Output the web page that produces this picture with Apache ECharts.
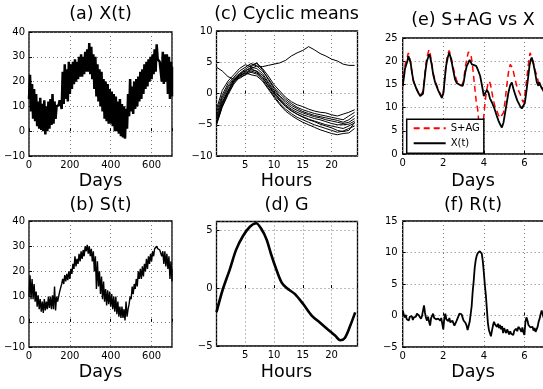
<!DOCTYPE html>
<html><head><meta charset="utf-8">
<script src="https://cdn.jsdelivr.net/npm/echarts@6/dist/echarts.min.js"></script>
<style>html,body{margin:0;padding:0;background:#fff}#c{width:543px;height:389px}</style>
</head><body><div id="c"></div>
<script>
// ---------- DATA ----------
// (a) X(t) and (b) S(t): upper / lower envelopes of the noisy trace, every 10 days
const envDays = [0,10,20,30,40,50,60,70,80,90,100,110,120,130,140,150,160,170,180,190,200,210,220,230,240,250,260,270,280,290,300,310,320,330,340,350,360,370,380,390,400,410,420,430,440,450,460,470,480,490,500,510,520,530,540,550,560,570,580,590,600,610,620,630,640,650,660,670,680,690,700];
const aUp = [22.7,19,17,15,12,13.5,11,12.5,10,12,13,15,12,10,10.5,12.5,24,27,25,28,27,28,29,28,30,31,30,32,33,35.5,34,31,30,27,25,24,21,20,19,17,16,15,14,12,13,11,10,9,15,21,18,20,21,22,24,25,27,28,29,30,31,33,35,29,28,32,31,31,30,28,26];
const aLo = [13,8,5,4,2,1,0.5,0,-1.3,0,1,2.5,3,5,10.5,12.5,9,11,13,12,15,17,19,20,21,22,22,23,24,24,23,21,17,14,12,10,8,5,4,3,3,2,0,0,-1,-2,-2.5,-3,1,6,8,7,9,10,12,13,15,17,18,20,21,23,24,29,28,20,19,20,15,13,14];
const bUp = [18.5,17,15,12,10.5,9,8,9,8,10,10,10.5,14,10,8,12,17,18.5,19,20,21,23,26,25,27,28,28.5,30,30.5,30,29,28,26,24,20,18,16,13,12.5,12,11,10,10,8,6,6,5,8,5,10,14,15,17,20,21,22,23,25,26,27,28,29,30,29,28.5,28,28,27,26,24,21];
const bLo = [10,9,9,8,6,5,4,3.5,4.5,5,5.5,5,5,4.5,8,12,15,15,16,16.5,17,19,21,22,23,24,25,26,28,27,26,24,20,13,14,11,9,8,6.5,7,6,5,4,3,2,1.5,1.5,0.5,2,7,9,11,13,14,17,17,18,20,21,23,24,26,28.5,29,28.5,26,23,22,21,17,16];

// (c) Cyclic means: one curve per cycle, hourly
const cHours = [0,1,2,3,4,5,6,7,8,9,10,11,12,13,14,15,16,17,18,19,20,21,22,23,24];
const cOdd = [4.2,3.6,2.7,2.3,2.4,3.0,4.0,4.4,4.3,4.5,4.7,4.9,5.3,6.0,6.5,6.9,7.5,7.0,6.4,6.0,5.5,5.2,4.7,4.5,4.5];
const c1 = [-2.5,0.5,2.0,3.0,4.0,4.6,4.3,4.8,4.0,2.8,1.4,0.4,-0.6,-1.3,-1.8,-2.1,-2.5,-2.8,-3.0,-3.1,-3.4,-3.6,-3.3,-3.0,-2.6];
const c2 = [-3.0,-0.2,1.6,2.6,3.6,4.2,4.8,4.4,3.6,2.4,1.0,0.0,-0.9,-1.6,-2.2,-2.6,-2.9,-3.2,-3.4,-3.6,-3.8,-4.0,-4.2,-3.6,-3.0];
const c3 = [-3.6,-0.6,1.2,2.4,3.2,3.9,4.5,4.9,3.8,2.2,0.8,-0.4,-1.2,-1.9,-2.4,-2.9,-3.2,-3.5,-3.7,-3.9,-4.1,-4.3,-4.6,-4.2,-3.5];
const c4 = [-4.0,-1.0,0.9,2.2,3.0,3.6,4.2,4.0,3.2,1.8,0.5,-0.6,-1.5,-2.2,-2.7,-3.1,-3.4,-3.7,-3.9,-4.2,-4.4,-4.6,-4.8,-4.6,-4.0];
const c5 = [-4.4,-1.4,0.5,2.0,2.8,3.4,3.8,3.6,2.9,1.6,0.2,-0.9,-1.8,-2.5,-3.0,-3.4,-3.7,-4.0,-4.2,-4.5,-4.8,-5.0,-5.0,-4.9,-4.4];
const c6 = [-4.7,-1.8,0.2,1.8,2.9,3.2,3.6,3.3,2.5,1.2,-0.1,-1.2,-2.1,-2.8,-3.3,-3.7,-4.1,-4.4,-4.7,-5.0,-5.2,-5.4,-5.6,-5.2,-4.7];
const c7 = [-5.0,-2.2,-0.2,1.5,2.6,3.0,3.4,3.1,2.2,0.9,-0.4,-1.6,-2.5,-3.2,-3.8,-4.2,-4.6,-5.0,-5.3,-5.6,-5.9,-6.2,-6.0,-5.6,-5.2];
const c8 = [-4.9,-2.0,0.0,1.7,2.7,3.3,3.0,2.8,2.0,0.7,-0.6,-1.8,-2.8,-3.5,-4.1,-4.6,-5.0,-5.4,-5.8,-6.1,-6.4,-6.6,-6.4,-6.3,-5.6];
const c9 = [-4.6,-1.6,0.4,2.1,3.1,3.7,4.0,3.5,2.6,1.3,0.1,-1.0,-2.0,-2.7,-3.3,-3.8,-4.2,-4.5,-4.9,-5.2,-5.5,-5.9,-6.1,-5.9,-4.6];

// (d) G
const dHours = [0,1.1,2.3,3.4,4.6,5.8,6.9,7.8,8.7,9.5,10.4,11.3,12.2,13.6,15.1,16.5,18,19.4,20.6,21.5,22.3,23.2,24.1];
const dVals  = [-2.07,-0.1,1.6,3.3,4.5,5.3,5.6,5.1,4.2,2.9,1.6,0.5,0,-0.5,-1.4,-2.35,-3.0,-3.6,-4.1,-4.5,-4.3,-3.3,-2.1];

// (e) S+AG vs X
const eXDays = [0,0.06,0.11,0.17,0.23,0.28,0.33,0.39,0.46,0.53,0.61,0.69,0.77,0.86,0.94,1.0,1.05,1.12,1.19,1.25,1.3,1.36,1.43,1.5,1.6,1.68,1.76,1.85,1.93,2.01,2.07,2.14,2.22,2.29,2.35,2.42,2.5,2.58,2.66,2.75,2.85,2.96,3.02,3.08,3.16,3.24,3.3,3.41,3.5,3.62,3.72,3.82,3.92,4.0,4.07,4.15,4.23,4.3,4.4,4.52,4.64,4.72,4.8,4.89,4.97,5.05,5.13,5.21,5.3,5.38,5.46,5.54,5.65,5.79,5.87,5.95,6.02,6.09,6.17,6.25,6.31,6.36,6.44,6.53,6.61,6.69,6.73,6.77,6.85,6.94,7.0];
const eXVals = [14.7,16.5,18.3,19.2,20.0,21.1,20.5,19.7,17.5,15.7,14.8,13.9,13.2,12.5,12.1,13.0,15.0,17.8,20.0,20.8,21.5,20.8,19.3,17.2,15.4,14.5,13.6,12.8,12.1,13.2,16.0,19.0,20.8,21.8,21.0,19.7,17.8,16.1,15.3,15.0,14.8,14.7,15.8,17.5,19.0,19.7,20.3,19.3,19.4,19.0,18.0,16.8,14.5,12.5,12.9,13.8,13.2,12.0,11.1,9.8,8.2,7.2,6.4,5.7,6.8,8.9,11.0,13.2,14.8,15.4,14.0,12.9,11.5,10.3,9.8,9.6,11.0,13.2,16.0,19.0,20.3,20.8,19.5,17.5,15.5,14.7,15.5,15.0,14.2,13.6,13.2];
const eSDays = [0,0.06,0.11,0.17,0.23,0.28,0.33,0.39,0.46,0.53,0.61,0.69,0.77,0.86,0.94,1.0,1.05,1.12,1.19,1.25,1.3,1.36,1.43,1.5,1.6,1.68,1.76,1.85,1.93,2.01,2.07,2.14,2.22,2.29,2.35,2.42,2.5,2.58,2.66,2.75,2.85,2.96,3.02,3.08,3.16,3.24,3.3,3.36,3.43,3.49,3.56,3.62,3.7,3.76,3.82,3.9,3.96,4.01,4.07,4.14,4.2,4.28,4.35,4.45,4.55,4.64,4.72,4.8,4.89,4.97,5.05,5.13,5.21,5.3,5.35,5.42,5.54,5.65,5.79,5.87,5.95,6.02,6.11,6.2,6.28,6.33,6.44,6.53,6.61,6.69,6.77,6.85,6.94,7.0];
const eSVals = [14.5,17.0,19.0,20.3,21.0,21.8,21.0,19.5,17.5,15.8,14.8,14.0,13.2,12.6,12.3,13.5,15.5,18.5,20.8,21.8,22.5,21.5,19.5,17.5,15.8,14.8,13.8,13.0,12.3,13.6,16.5,19.5,21.5,22.3,21.5,20.2,18.5,17.0,15.8,15.2,15.0,15.0,16.5,18.5,20.5,22.0,22.3,21.5,19.5,17.0,14.0,11.5,9.5,6.5,3.0,2.5,6.0,8.8,11.5,13.8,15.0,15.7,14.5,12.0,10.2,9.3,8.4,7.8,7.5,8.9,11.5,14.7,17.5,19.3,19.7,18.5,16.1,14.2,12.9,11.8,11.1,12.8,16.0,19.5,21.8,22.0,19.7,18.0,17.0,15.5,14.7,14.3,14.0,13.8];

// (f) R(t)
const fDays = [0,0.05,0.1,0.15,0.2,0.25,0.3,0.35,0.4,0.45,0.5,0.55,0.6,0.65,0.7,0.75,0.8,0.85,0.9,0.95,1.0,1.05,1.1,1.15,1.2,1.25,1.3,1.35,1.4,1.45,1.5,1.55,1.6,1.65,1.7,1.75,1.8,1.85,1.9,1.95,2.0,2.05,2.1,2.15,2.2,2.25,2.3,2.35,2.4,2.45,2.5,2.55,2.6,2.65,2.7,2.75,2.8,2.85,2.9,2.95,3.0,3.05,3.1,3.15,3.2,3.25,3.3,3.35,3.4,3.45,3.5,3.55,3.6,3.65,3.7,3.75,3.8,3.85,3.9,3.95,4.0,4.05,4.1,4.15,4.2,4.25,4.3,4.35,4.4,4.45,4.5,4.55,4.6,4.65,4.7,4.75,4.8,4.85,4.9,4.95,5.0,5.05,5.1,5.15,5.2,5.25,5.3,5.35,5.4,5.45,5.5,5.55,5.6,5.65,5.7,5.75,5.8,5.85,5.9,5.95,6.0,6.05,6.1,6.15,6.2,6.25,6.3,6.35,6.4,6.45,6.5,6.55,6.6,6.65,6.7,6.75,6.8,6.85,6.9,6.95,7.0];
const fVals = [0.8,0.2,-0.3,0.1,-0.6,-0.4,-0.8,-0.2,-0.5,-0.1,-0.7,-0.3,-0.6,-0.2,0.3,0.4,0.0,-0.2,-0.5,-0.1,-0.2,1.6,0.4,-0.4,-0.8,-0.2,-1.0,-1.6,-0.4,-0.7,0.3,-0.4,-0.1,-0.6,-0.3,-0.5,-0.2,-0.8,-0.4,-0.7,-2.2,-0.5,0.3,-0.6,-0.3,-0.9,-0.4,-1.1,-1.4,-0.8,-1.2,-1.6,-1.3,-0.9,-0.5,-0.2,0.3,0.6,0.2,-0.3,-0.8,-0.5,-1.2,-1.6,-2.3,-2.0,-1.0,0.2,1.5,3.8,5.5,7.6,8.8,9.5,9.9,9.7,10.2,10.3,9.8,8.6,6.8,4.8,3.2,1.0,-1.2,-2.3,-2.8,-3.3,-2.4,-1.6,-1.0,-1.4,-1.2,-1.8,-1.3,-2.0,-1.5,-2.2,-1.7,-2.8,-2.0,-2.4,-2.8,-2.2,-2.6,-3.0,-2.5,-2.9,-2.7,-3.1,-2.4,-2.6,-2.1,-2.5,-1.8,-1.5,-2.2,-2.6,-1.9,-2.7,-3.1,-1.0,-0.3,-0.8,-1.5,-1.2,-1.9,-2.2,-1.8,-2.4,-2.0,-2.6,-2.3,-1.8,-1.0,-0.5,0.2,0.8,0.5,-0.4,-0.2];

// ---------- CHART ----------
const FONT = 'DejaVu Sans';
const chart = echarts.init(document.getElementById('c'), null, {renderer: 'canvas'});

function pairs(xs, ys) { return xs.map((x, i) => [x, ys[i]]); }
function zig(days, up, lo) {
  const out = [];
  for (let i = 0; i < days.length; i++) {
    out.push([days[i], lo[i]]);
    out.push([i < days.length - 1 ? days[i] + 5 : days[i], up[i]]);
  }
  return out;
}
const fmt = (interval, hideZero) => v => {
  const k = v / interval;
  if (Math.abs(k - Math.round(k)) > 1e-6) return '';
  if (hideZero && v === 0) return '';
  return String(v).replace('-', '\u2212');
};
const gridBox = [
  {left: 29, top: 32, width: 143, height: 124},
  {left: 29, top: 221, width: 143, height: 126},
  {left: 216.5, top: 31, width: 141, height: 125},
  {left: 216.5, top: 221.5, width: 141, height: 124.5},
  {left: 402.7, top: 38, width: 142, height: 116},
  {left: 402.7, top: 221, width: 142, height: 126}
];
const grid = gridBox.map(g => Object.assign({show: true, borderColor: '#000', borderWidth: 1.3,
  backgroundColor: 'transparent', containLabel: false, outerBoundsMode: 'none'}, g));

const split = {show: true, lineStyle: {color: '#777', type: [1, 3], width: 1}};
function xAx(gi, min, max, interval, hideZero) {
  return {gridIndex: gi, type: 'value', min, max, interval,
    axisLine: {show: false},
    axisTick: {show: true, inside: true, length: 3, lineStyle: {color: '#000'}},
    axisLabel: {fontFamily: FONT, fontSize: 10, color: '#000', margin: 4, formatter: fmt(interval, hideZero)},
    splitLine: split};
}
function yAx(gi, min, max, interval, margin) {
  return {gridIndex: gi, type: 'value', min, max, interval,
    axisLine: {show: false},
    axisTick: {show: true, inside: true, length: 3, lineStyle: {color: '#000'}},
    axisLabel: {fontFamily: FONT, fontSize: 10, color: '#000', margin: margin, formatter: fmt(interval, false)},
    splitLine: split};
}
const xAxis = [
  xAx(0, 0, 700, 200, false), xAx(1, 0, 700, 200, false),
  xAx(2, 0, 24.5, 5, true), xAx(3, 0, 24.5, 5, true),
  xAx(4, 0, 7, 2, false), xAx(5, 0, 7, 2, false)
];
const yAxis = [
  yAx(0, -10, 40, 10, 4), yAx(1, -10, 40, 10, 4),
  yAx(2, -10, 10, 5, 4), yAx(3, -5, 5.75, 5, 4),
  yAx(4, 0, 25, 5, 5), yAx(5, -5, 15, 5, 5)
];

function line(idx, data, width, extra) {
  return Object.assign({type: 'line', xAxisIndex: idx, yAxisIndex: idx, data,
    symbol: 'none', silent: true, animation: false,
    itemStyle: {color: '#000'},
    lineStyle: {color: '#000', width: width}}, extra || {});
}
const series = [];
series.push(line(0, zig(envDays, aUp, aLo), 2.5));
series.push(line(1, zig(envDays, bUp, bLo), 1.4));
[cOdd, c1, c2, c3, c4, c5, c6, c7, c8, c9].forEach(c => series.push(line(2, pairs(cHours, c), 1)));
series.push(line(3, pairs(dHours, dVals), 2.6, {smooth: 0.3}));
series.push(line(4, pairs(eSDays, eSVals), 1.5, {name: 'S+AG', itemStyle: {color: '#ff0000'},
  lineStyle: {color: '#ff0000', width: 1.5, type: [6, 4]}}));
series.push(line(4, pairs(eXDays, eXVals), 1.8, {name: 'X(t)'}));
series.push(line(5, pairs(fDays, fVals), 1.8));

const txt = (s, x, y) => ({type: 'text', x, y, silent: true, z: 10,
  style: {text: s, fill: '#000', font: '17.5px "DejaVu Sans"', align: 'center', verticalAlign: 'middle'}});
const graphic = [
  txt('(a) X(t)', 100.5, 14), txt('(c) Cyclic means', 286.5, 14), txt('(e) S+AG vs X', 473, 20),
  txt('(b) S(t)', 100.5, 205), txt('(d) G', 286.5, 205), txt('(f) R(t)', 473, 205),
  txt('Days', 100.5, 181), txt('Hours', 286.5, 181), txt('Days', 473, 181),
  txt('Days', 100.5, 372), txt('Hours', 286.5, 372), txt('Days', 473, 372)
];

chart.setOption({
  animation: false,
  backgroundColor: '#fff',
  grid, xAxis, yAxis, series, graphic,
  legend: {data: ['S+AG', 'X(t)'], orient: 'vertical', left: 406.7, top: 119.3,
    itemWidth: 32, itemHeight: 10, itemGap: 5, padding: [4, 4, 5, 6],
    itemStyle: {opacity: 0},
    backgroundColor: '#fff', borderColor: '#000', borderWidth: 1.5, borderRadius: 0,
    selectedMode: false, textStyle: {fontFamily: FONT, fontSize: 10, color: '#000'}}
});
</script>
</body></html>
